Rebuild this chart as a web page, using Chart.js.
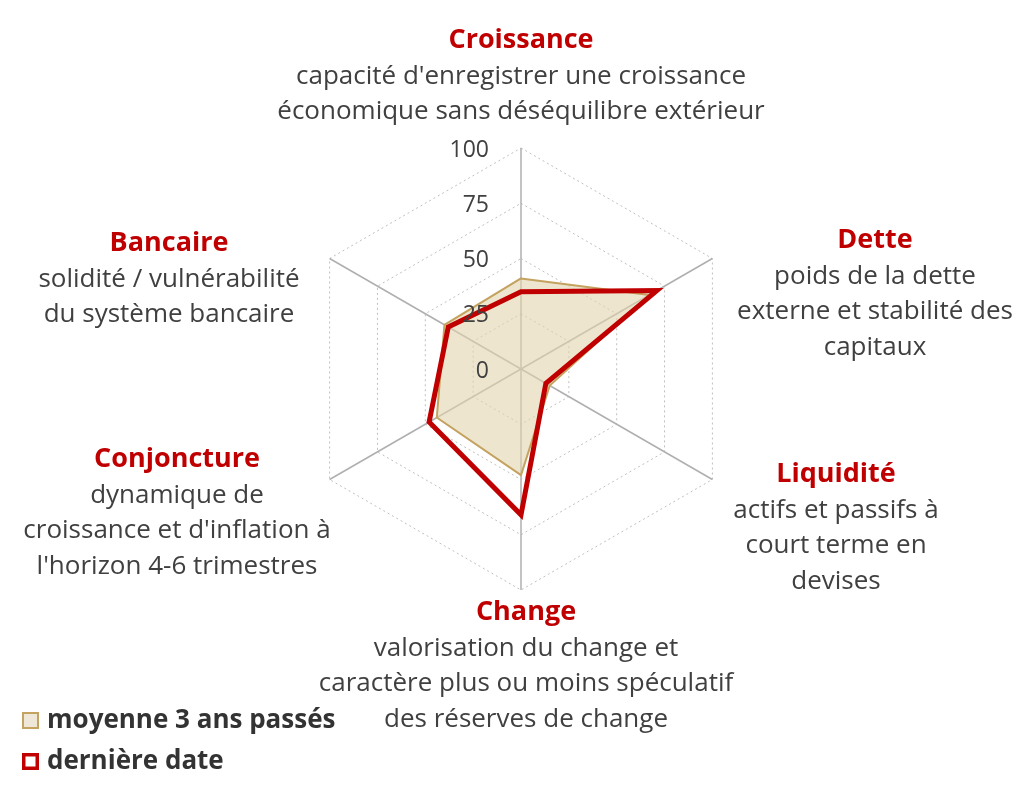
<!DOCTYPE html>
<html lang="fr">
<head>
  <meta charset="UTF-8">
  <title>Radar risque pays</title>
  <script src="https://cdn.jsdelivr.net/npm/chart.js"></script>
  <style>
    body {
      margin: 0;
      padding: 0;
      background: #ffffff;
    }
    .chart-container {
      position: relative;
      width: 1024px;
      height: 791px;
    }
  </style>
</head>
<body>
  <div class="chart-container">
    <canvas id="radarChart" width="1024" height="791"></canvas>
  </div>
  <script>
    // Axes (clockwise from top)
    const axisTitles = ['Croissance', 'Dette', 'Liquidité', 'Change', 'Conjoncture', 'Bancaire'];
    const axisDescriptions = [
      ["capacité d'enregistrer une croissance", 'économique sans déséquilibre extérieur'],
      ['poids de la dette', 'externe et stabilité des', 'capitaux'],
      ['actifs et passifs à', 'court terme en', 'devises'],
      ['valorisation du change et', 'caractère plus ou moins spéculatif', 'des réserves de change'],
      ['dynamique de', "croissance et d'inflation à", "l'horizon 4-6 trimestres"],
      ['solidité / vulnérabilité', 'du système bancaire'],
    ];

    // Series values (0-100)
    const moyenneValues = [41, 67, 15, 48, 44, 40];
    const derniereValues = [35, 71, 13, 66, 48, 38];
    const seriesLabels = ['moyenne 3 ans passés', 'dernière date'];

    // Radial tick labels
    const tickValues = [0, 25, 50, 75, 100];

    // Where each axis label block sits (centre x, centre y of title)
    const labelLayout = [
      { x: 521, y: 40 },
      { x: 875, y: 240 },
      { x: 836, y: 474 },
      { x: 526, y: 612 },
      { x: 177, y: 459 },
      { x: 169, y: 243 },
    ];

    const RED = '#C00000';
    const GOLD = '#C4A360';
    const GOLD_FILL = 'rgba(226, 211, 174, 0.6)';
    const TEXT = '#404040';
    const FONT = "'Open Sans', 'Noto Sans', sans-serif";

    /**
     * Draws the multi-style axis labels, the tick numbers and the legend
     */
    const annotationsPlugin = {
      id: 'annotations',
      afterDatasetsDraw(chart) {
        const ctx = chart.ctx;
        const scale = chart.scales.r;
        ctx.save();

        // tick numbers, to the left of the top axis
        ctx.fillStyle = TEXT;
        ctx.font = `23px ${FONT}`;
        ctx.textAlign = 'right';
        ctx.textBaseline = 'middle';
        tickValues.forEach((v) => {
          const y = scale.yCenter - scale.getDistanceFromCenterForValue(v);
          ctx.fillText(String(v), scale.xCenter - 32, y + 2);
        });

        // axis labels
        ctx.textAlign = 'center';
        axisTitles.forEach((title, i) => {
          const pos = labelLayout[i];
          ctx.fillStyle = RED;
          ctx.font = `bold 27px ${FONT}`;
          ctx.fillText(title, pos.x, pos.y);
          ctx.fillStyle = TEXT;
          ctx.font = `26px ${FONT}`;
          axisDescriptions[i].forEach((line, j) => {
            ctx.fillText(line, pos.x, pos.y + 36.5 + j * 35.5);
          });
        });

        // legend
        ctx.textAlign = 'left';
        ctx.font = `bold 26px ${FONT}`;
        const legendY = [720, 761];
        chart.data.datasets.forEach((ds, i) => {
          const y = legendY[i];
          ctx.fillStyle = ds.legendFill;
          ctx.fillRect(22, y - 8, 17, 17);
          ctx.strokeStyle = ds.borderColor;
          ctx.lineWidth = ds.legendLine;
          ctx.strokeRect(22 + ds.legendLine / 2, y - 8 + ds.legendLine / 2, 17 - ds.legendLine, 17 - ds.legendLine);
          ctx.fillStyle = '#333333';
          ctx.fillText(ds.label, 47, y + 1);
        });

        ctx.restore();
      },
    };

    const chartCanvas = document.getElementById('radarChart');
    new Chart(chartCanvas, {
      type: 'radar',
      data: {
        labels: axisTitles,
        datasets: [
          {
            label: seriesLabels[0],
            data: moyenneValues,
            borderColor: GOLD,
            backgroundColor: GOLD_FILL,
            borderWidth: 2,
            fill: true,
            pointRadius: 0,
            order: 2,
            legendFill: '#EFE8D8',
            legendLine: 2,
          },
          {
            label: seriesLabels[1],
            data: derniereValues,
            borderColor: RED,
            backgroundColor: 'rgba(0,0,0,0)',
            borderWidth: 5,
            fill: false,
            pointRadius: 0,
            order: 1,
            legendFill: '#ffffff',
            legendLine: 3.5,
          },
        ],
      },
      options: {
        responsive: false,
        animation: false,
        layout: {
          padding: { left: 300, right: 282, top: 148, bottom: 201 },
        },
        elements: {
          line: { tension: 0, borderJoinStyle: 'miter' },
        },
        plugins: {
          legend: { display: false },
          tooltip: { enabled: false },
        },
        scales: {
          r: {
            min: 0,
            max: 100,
            ticks: { stepSize: 25, display: false },
            pointLabels: { display: false },
            grid: { color: '#BFBFBF', lineWidth: 1 },
            border: { dash: [2, 3] },
            angleLines: { color: '#AFAFAF', lineWidth: 1.5 },
          },
        },
      },
      plugins: [annotationsPlugin],
    });
  </script>
</body>
</html>
